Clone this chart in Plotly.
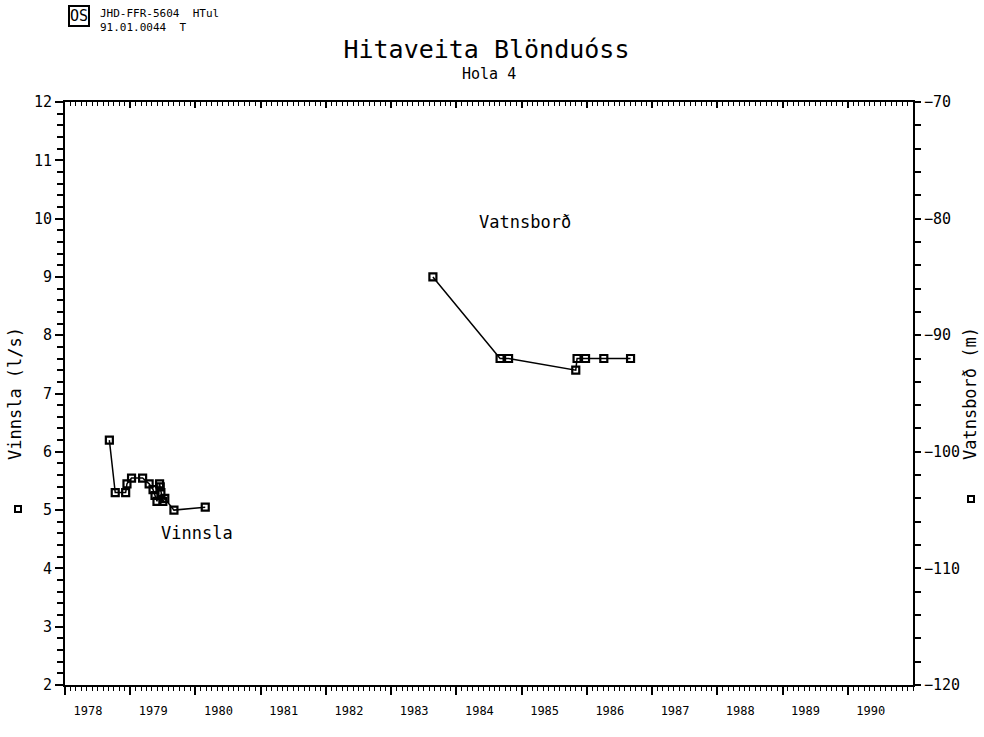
import plotly.graph_objects as go

# ---- data ----
vinnsla_ar = [1978.68, 1978.77, 1978.93, 1978.95, 1979.02, 1979.19, 1979.29, 1979.35,
              1979.38, 1979.41, 1979.45, 1979.46, 1979.47, 1979.50, 1979.53, 1979.67, 1980.15]
vinnsla = [6.2, 5.3, 5.3, 5.45, 5.55, 5.55, 5.45, 5.35,
           5.25, 5.15, 5.45, 5.4, 5.3, 5.15, 5.2, 5.0, 5.05]

vatnsbord_ar = [1983.64, 1984.67, 1984.80, 1985.83, 1985.85, 1985.98, 1986.26, 1986.67]
vatnsbord = [-85, -92, -92, -93, -92, -92, -92, -92]

ar_ticks = list(range(1978, 1991))
ar_labels = [str(a) for a in ar_ticks]

FONT = "DejaVu Sans Mono"
W, H = 984, 737
L, R, T, B = 65, 913, 102, 685  # plot area in pixels


def px(xp):
    return (xp - L) / (R - L)


def py(yp):
    return (B - yp) / (B - T)


fig = go.Figure()

fig.add_trace(go.Scatter(
    x=vinnsla_ar, y=vinnsla, mode="lines+markers", name="Vinnsla",
    line=dict(color="black", width=1.5),
    marker=dict(symbol="square-open", size=7, color="black", line=dict(width=2.2, color="black")),
    xaxis="x", yaxis="y", showlegend=False,
))
fig.add_trace(go.Scatter(
    x=vatnsbord_ar, y=vatnsbord, mode="lines+markers", name="Vatnsborð",
    line=dict(color="black", width=1.5),
    marker=dict(symbol="square-open", size=7, color="black", line=dict(width=2.2, color="black")),
    xaxis="x", yaxis="y2", showlegend=False,
))
# empty trace so that the top (mirror) axis is drawn
fig.add_trace(go.Scatter(x=[None], y=[None], xaxis="x2", yaxis="y",
                         showlegend=False, hoverinfo="skip", mode="markers"))

axis_common = dict(showgrid=False, zeroline=False, showline=True, linecolor="black",
                   linewidth=2, tickcolor="black", tickwidth=1.5, automargin=False)

fig.update_layout(
    width=W, height=H,
    paper_bgcolor="white", plot_bgcolor="white",
    margin=dict(l=L, r=W - R, t=T, b=H - B, autoexpand=False),
    font=dict(family=FONT, color="black"),
    title=dict(
        text="Hitaveita Blönduóss",
        font=dict(family=FONT, size=25, color="black"),
        x=0.497, xref="paper", xanchor="center",
        y=1 - 49 / H, yref="container", yanchor="middle",
        automargin=False,
    ),
    xaxis=dict(
        range=[1978, 1991], tickmode="array", tickvals=ar_ticks, ticktext=ar_labels,
        ticks="outside", ticklen=8, ticklabelshift=23, ticklabelstandoff=6,
        tickfont=dict(family=FONT, size=12, color="black"),
        minor=dict(tickmode="linear", tick0=1978, dtick=1 / 12, ticks="outside",
                   ticklen=4, tickcolor="black", tickwidth=1, showgrid=False),
        **axis_common,
    ),
    xaxis2=dict(
        range=[1978, 1991], overlaying="x", side="top", anchor="y",
        tickmode="array", tickvals=ar_ticks, ticks="inside", ticklen=6,
        showticklabels=False,
        minor=dict(tickmode="linear", tick0=1978, dtick=1 / 12, ticks="inside",
                   ticklen=4, tickcolor="black", tickwidth=1, showgrid=False),
        **axis_common,
    ),
    yaxis=dict(
        range=[2, 12], tickmode="linear", tick0=2, dtick=1,
        ticks="outside", ticklen=8,
        tickfont=dict(family=FONT, size=15, color="black"),
        minor=dict(tickmode="linear", tick0=2, dtick=0.2, ticks="outside",
                   ticklen=6, tickcolor="black", tickwidth=1.5, showgrid=False),
        title=dict(text="Vinnsla (l/s)", font=dict(family=FONT, size=17, color="black"),
                   standoff=8),
        **axis_common,
    ),
    yaxis2=dict(
        range=[-120, -70], overlaying="y", side="right", anchor="x",
        tickmode="linear", tick0=-120, dtick=10,
        ticks="outside", ticklen=6,
        tickfont=dict(family=FONT, size=15, color="black"),
        minor=dict(tickmode="linear", tick0=-120, dtick=2, ticks="outside",
                   ticklen=6, tickcolor="black", tickwidth=1.5, showgrid=False),
        title=dict(text="Vatnsborð (m)", font=dict(family=FONT, size=17, color="black"),
                   standoff=4),
        **axis_common,
    ),
)

# subtitle
fig.add_annotation(x=px(489), y=py(74), xref="paper", yref="paper",
                   xanchor="center", yanchor="middle", text="Hola 4", showarrow=False,
                   font=dict(family=FONT, size=15, color="black"))

# in-plot labels
fig.add_annotation(x=1985.05, y=-80.3, xref="x", yref="y2", text="Vatnsborð",
                   showarrow=False, font=dict(family=FONT, size=17, color="black"))
fig.add_annotation(x=1980.03, y=4.6, xref="x", yref="y", text="Vinnsla",
                   showarrow=False, font=dict(family=FONT, size=17, color="black"))

# legend glyphs beside axis titles
for gx, gy in [(18, 509), (971, 499)]:
    fig.add_shape(type="rect", xref="paper", yref="paper",
                  x0=px(gx - 3), x1=px(gx + 3), y0=py(gy + 3), y1=py(gy - 3),
                  line=dict(color="black", width=2), fillcolor="white")

# header stamp
fig.add_annotation(x=px(79), y=py(16), xref="paper", yref="paper",
                   xanchor="center", yanchor="middle",
                   text="OS", showarrow=False, bordercolor="black", borderwidth=2,
                   borderpad=0, font=dict(family=FONT, size=15, color="black"))
fig.add_annotation(x=px(98), y=py(5), xref="paper", yref="paper",
                   xanchor="left", yanchor="top", align="left",
                   text="JHD-FFR-5604  HTul<br>91.01.0044  T", showarrow=False,
                   font=dict(family=FONT, size=11, color="black"))

fig.write_html("out.html", config={"displayModeBar": False},
               post_script="document.body.style.margin='0';document.body.style.overflow='hidden';")
